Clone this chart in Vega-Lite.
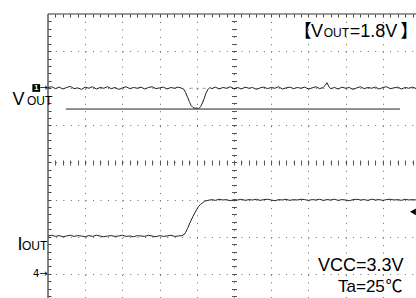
{
"$schema": "https://vega.github.io/schema/vega-lite/v6.json",
"width": 368, "height": 284,
"autosize": {"type": "none"},
"padding": {"left": 48, "top": 14, "right": 0, "bottom": 0},
"background": "white",
"config": {"view": {"stroke": null}, "axis": {"domain": false, "labels": false, "ticks": false, "grid": false, "title": null}},
"resolve": {"axis": {"x": "independent", "y": "independent"}},
"datasets": {
"vout": [
{"t":0.0,"v":6.02},{"t":0.1,"v":6.04},{"t":0.2,"v":5.99},{"t":0.3,"v":6.03},{"t":0.4,"v":5.98},{"t":0.5,"v":6.02},{"t":0.6,"v":6.05},{"t":0.7,"v":5.99},{"t":0.8,"v":6.01},{"t":0.9,"v":5.97},
{"t":1.0,"v":6.03},{"t":1.1,"v":6.00},{"t":1.2,"v":6.04},{"t":1.3,"v":5.98},{"t":1.4,"v":6.02},{"t":1.5,"v":6.00},{"t":1.6,"v":6.04},{"t":1.7,"v":5.99},{"t":1.8,"v":6.02},{"t":1.9,"v":5.97},
{"t":2.0,"v":6.01},{"t":2.1,"v":6.04},{"t":2.2,"v":5.99},{"t":2.3,"v":6.02},{"t":2.4,"v":6.00},{"t":2.5,"v":6.03},{"t":2.6,"v":5.98},{"t":2.7,"v":6.02},{"t":2.8,"v":6.04},{"t":2.9,"v":5.99},
{"t":3.0,"v":6.01},{"t":3.1,"v":6.03},{"t":3.2,"v":5.98},{"t":3.3,"v":6.02},{"t":3.4,"v":6.00},{"t":3.5,"v":6.03},{"t":3.6,"v":6.00},{"t":3.65,"v":5.97},{"t":3.7,"v":5.88},{"t":3.75,"v":5.76},
{"t":3.8,"v":5.64},{"t":3.85,"v":5.53},{"t":3.9,"v":5.48},{"t":3.95,"v":5.46},{"t":4.0,"v":5.47},{"t":4.05,"v":5.45},{"t":4.1,"v":5.50},{"t":4.15,"v":5.60},{"t":4.2,"v":5.73},{"t":4.25,"v":5.87},
{"t":4.3,"v":5.97},{"t":4.35,"v":6.02},{"t":4.4,"v":5.99},{"t":4.5,"v":6.03},{"t":4.6,"v":5.98},{"t":4.7,"v":6.02},{"t":4.8,"v":6.00},{"t":4.9,"v":6.04},{"t":5.0,"v":5.99},{"t":5.1,"v":6.02},
{"t":5.2,"v":5.98},{"t":5.3,"v":6.03},{"t":5.4,"v":6.00},{"t":5.5,"v":6.02},{"t":5.6,"v":5.97},{"t":5.7,"v":6.01},{"t":5.8,"v":6.03},{"t":5.9,"v":5.99},{"t":6.0,"v":6.02},{"t":6.1,"v":6.00},
{"t":6.2,"v":6.04},{"t":6.3,"v":5.98},{"t":6.4,"v":6.01},{"t":6.5,"v":6.03},{"t":6.6,"v":5.99},{"t":6.7,"v":6.02},{"t":6.8,"v":6.00},{"t":6.9,"v":6.03},{"t":7.0,"v":5.98},{"t":7.1,"v":6.01},
{"t":7.2,"v":6.04},{"t":7.3,"v":5.99},{"t":7.4,"v":6.02},{"t":7.45,"v":6.08},{"t":7.5,"v":6.15},{"t":7.55,"v":6.04},{"t":7.6,"v":5.99},{"t":7.7,"v":6.02},{"t":7.8,"v":5.98},{"t":7.9,"v":6.03},
{"t":8.0,"v":6.00},{"t":8.1,"v":6.02},{"t":8.2,"v":5.97},{"t":8.3,"v":6.01},{"t":8.4,"v":6.04},{"t":8.5,"v":5.99},{"t":8.6,"v":6.02},{"t":8.7,"v":6.00},{"t":8.8,"v":6.03},{"t":8.9,"v":5.98},
{"t":9.0,"v":6.02},{"t":9.1,"v":6.04},{"t":9.2,"v":5.99},{"t":9.3,"v":6.01},{"t":9.4,"v":6.03},{"t":9.5,"v":5.98},{"t":9.6,"v":6.02},{"t":9.7,"v":6.00},{"t":9.8,"v":6.03},{"t":9.9,"v":5.99}
],
"iout": [
{"t":0.0,"v":2.02},{"t":0.1,"v":2.04},{"t":0.2,"v":2.01},{"t":0.3,"v":2.03},{"t":0.4,"v":2.00},{"t":0.5,"v":2.02},{"t":0.6,"v":2.04},{"t":0.7,"v":2.01},{"t":0.8,"v":2.03},{"t":0.9,"v":2.02},
{"t":1.0,"v":2.00},{"t":1.1,"v":2.03},{"t":1.2,"v":2.01},{"t":1.3,"v":2.04},{"t":1.4,"v":2.02},{"t":1.5,"v":2.00},{"t":1.6,"v":2.02},{"t":1.7,"v":2.03},{"t":1.8,"v":2.01},{"t":1.9,"v":2.02},
{"t":2.0,"v":2.04},{"t":2.1,"v":2.01},{"t":2.2,"v":2.02},{"t":2.3,"v":2.00},{"t":2.4,"v":2.03},{"t":2.5,"v":2.02},{"t":2.6,"v":2.01},{"t":2.7,"v":2.04},{"t":2.8,"v":2.02},{"t":2.9,"v":2.00},
{"t":3.0,"v":2.03},{"t":3.1,"v":2.01},{"t":3.2,"v":2.02},{"t":3.3,"v":2.04},{"t":3.4,"v":2.01},{"t":3.5,"v":2.02},{"t":3.6,"v":2.03},{"t":3.65,"v":2.05},{"t":3.7,"v":2.12},{"t":3.75,"v":2.22},
{"t":3.8,"v":2.34},{"t":3.85,"v":2.45},{"t":3.9,"v":2.55},{"t":3.95,"v":2.65},{"t":4.0,"v":2.74},{"t":4.05,"v":2.82},{"t":4.1,"v":2.87},{"t":4.15,"v":2.91},{"t":4.2,"v":2.95},{"t":4.25,"v":2.97},
{"t":4.3,"v":2.98},{"t":4.4,"v":3.00},{"t":4.5,"v":2.98},{"t":4.6,"v":3.01},{"t":4.7,"v":2.99},{"t":4.8,"v":3.00},{"t":4.9,"v":2.97},{"t":5.0,"v":3.00},{"t":5.1,"v":2.99},{"t":5.2,"v":3.01},
{"t":5.3,"v":2.98},{"t":5.4,"v":3.00},{"t":5.5,"v":2.99},{"t":5.6,"v":3.01},{"t":5.7,"v":2.98},{"t":5.8,"v":3.00},{"t":5.9,"v":3.01},{"t":6.0,"v":2.99},{"t":6.1,"v":2.97},{"t":6.2,"v":3.00},
{"t":6.3,"v":2.99},{"t":6.4,"v":3.01},{"t":6.5,"v":2.98},{"t":6.6,"v":3.00},{"t":6.7,"v":2.99},{"t":6.8,"v":3.01},{"t":6.9,"v":3.00},{"t":7.0,"v":2.98},{"t":7.1,"v":3.00},{"t":7.2,"v":2.99},
{"t":7.3,"v":3.01},{"t":7.4,"v":2.98},{"t":7.5,"v":3.00},{"t":7.6,"v":2.99},{"t":7.7,"v":3.01},{"t":7.8,"v":2.98},{"t":7.9,"v":3.00},{"t":8.0,"v":2.99},{"t":8.1,"v":2.97},{"t":8.2,"v":3.00},
{"t":8.3,"v":3.01},{"t":8.4,"v":2.99},{"t":8.5,"v":3.00},{"t":8.6,"v":2.98},{"t":8.7,"v":3.01},{"t":8.8,"v":2.99},{"t":8.9,"v":3.00},{"t":9.0,"v":2.98},{"t":9.1,"v":3.00},{"t":9.2,"v":3.01},
{"t":9.3,"v":2.99},{"t":9.4,"v":3.00},{"t":9.5,"v":2.98},{"t":9.6,"v":3.01},{"t":9.7,"v":2.99},{"t":9.8,"v":3.00},{"t":9.9,"v":2.99}
],
"big": [
{"x":7.07,"y":7.39,"text":"V"},
{"x":8.11,"y":7.39,"text":"=1.8V"},
{"x":7.258,"y":1.077,"text":"VCC=3.3V"},
{"x":-0.954,"y":5.549,"text":"V"},
{"x":-0.823,"y":1.643,"text":"I"}
],
"small": [
{"x":7.41,"y":7.39,"text":"OUT"},
{"x":-0.565,"y":5.549,"text":"OUT"},
{"x":-0.699,"y":1.643,"text":"OUT"}
]
},
"layer": [
{
"data": {"values": [{"x": 0}]},
"mark": {"type": "rule", "color": "#333", "strokeWidth": 1.2},
"encoding": {"x": {"field": "x", "type": "quantitative", "scale": {"domain": [0, 9.892], "nice": false, "zero": false}, "axis": null}}
},
{
"data": {"values": [{"y": 8}]},
"mark": {"type": "rule", "color": "#333", "strokeWidth": 1.2},
"encoding": {"y": {"field": "y", "type": "quantitative", "scale": {"domain": [0.35, 8], "nice": false, "zero": false}, "axis": null}}
},
{
"data": {"values": [{"x1": 3.82, "x2": 4.2, "y": 6.0}]},
"mark": {"type": "rule", "color": "#aaa", "strokeWidth": 1, "strokeDash": [3, 3]},
"encoding": {
"x": {"field": "x1", "type": "quantitative", "scale": {"domain": [0, 9.892], "nice": false, "zero": false}, "axis": null},
"x2": {"field": "x2"},
"y": {"field": "y", "type": "quantitative", "scale": {"domain": [0.35, 8], "nice": false, "zero": false}, "axis": null}
}
},
{
"data": {"name": "vout"},
"mark": {"type": "line", "color": "#222", "strokeWidth": 1, "clip": true},
"encoding": {
"x": {"field": "t", "type": "quantitative", "scale": {"domain": [0, 9.892], "nice": false, "zero": false},
 "axis": {"orient": "bottom", "grid": true, "values": [1,2,3,4,5,6,7,8,9], "gridDash": [1, 6.44], "gridColor": "#666", "gridWidth": 1, "gridOpacity": 1}},
"y": {"field": "v", "type": "quantitative", "scale": {"domain": [0.35, 8], "nice": false, "zero": false},
 "axis": {"orient": "left", "grid": true, "values": [1,2,3,4,5,6,7], "gridDash": [1, 6.425], "gridColor": "#666", "gridWidth": 1, "gridOpacity": 1}}
}
},
{
"data": {"name": "iout"},
"mark": {"type": "line", "color": "#222", "strokeWidth": 1, "clip": true},
"encoding": {
"x": {"field": "t", "type": "quantitative", "scale": {"domain": [0, 9.892], "nice": false, "zero": false},
 "axis": {"orient": "top", "offset": -3, "ticks": true, "tickSize": 3, "tickColor": "#444", "tickWidth": 1,
  "values": [0.2,0.4,0.6,0.8,1,1.2,1.4,1.6,1.8,2,2.2,2.4,2.6,2.8,3,3.2,3.4,3.6,3.8,4,4.2,4.4,4.6,4.8,5,5.2,5.4,5.6,5.8,6,6.2,6.4,6.6,6.8,7,7.2,7.4,7.6,7.8,8,8.2,8.4,8.6,8.8,9,9.2,9.4,9.6,9.8]}},
"y": {"field": "v", "type": "quantitative", "scale": {"domain": [0.35, 8], "nice": false, "zero": false},
 "axis": {"orient": "left", "offset": -3, "ticks": true, "tickSize": 3, "tickColor": "#444", "tickWidth": 1,
  "values": [0.4,0.6,0.8,1,1.2,1.4,1.6,1.8,2,2.2,2.4,2.6,2.8,3,3.2,3.4,3.6,3.8,4,4.2,4.4,4.6,4.8,5,5.2,5.4,5.6,5.8,6,6.2,6.4,6.6,6.8,7,7.2,7.4,7.6,7.8]}}
}
},
{
"data": {"values": [{"x1": 0.48, "x2": 9.46, "y": 5.44}]},
"mark": {"type": "rule", "color": "#222", "strokeWidth": 1},
"encoding": {
"x": {"field": "x1", "type": "quantitative", "scale": {"domain": [0, 9.892], "nice": false, "zero": false},
 "axis": {"orient": "top", "offset": -151, "ticks": true, "tickSize": 5, "tickColor": "#555", "tickWidth": 1,
  "values": [0.2,0.4,0.6,0.8,1,1.2,1.4,1.6,1.8,2,2.2,2.4,2.6,2.8,3,3.2,3.4,3.6,3.8,4,4.2,4.4,4.6,4.8,5,5.2,5.4,5.6,5.8,6,6.2,6.4,6.6,6.8,7,7.2,7.4,7.6,7.8,8,8.2,8.4,8.6,8.8,9,9.2,9.4,9.6,9.8]}},
"x2": {"field": "x2"},
"y": {"field": "y", "type": "quantitative", "scale": {"domain": [0.35, 8], "nice": false, "zero": false},
 "axis": {"orient": "left", "offset": -188.5, "ticks": true, "tickSize": 5, "tickColor": "#555", "tickWidth": 1,
  "values": [0.4,0.6,0.8,1,1.2,1.4,1.6,1.8,2,2.2,2.4,2.6,2.8,3,3.2,3.4,3.6,3.8,4,4.2,4.4,4.6,4.8,5,5.2,5.4,5.6,5.8,6,6.2,6.4,6.6,6.8,7,7.2,7.4,7.6,7.8]}}
}
},
{
"data": {"name": "big"},
"mark": {"type": "text", "font": "Liberation Sans", "fontSize": 18, "align": "left", "baseline": "alphabetic", "color": "#000"},
"encoding": {
"x": {"field": "x", "type": "quantitative", "scale": {"domain": [0, 9.892], "nice": false, "zero": false}, "axis": null},
"y": {"field": "y", "type": "quantitative", "scale": {"domain": [0.35, 8], "nice": false, "zero": false}, "axis": null},
"text": {"field": "text"}
}
},
{
"data": {"values": [{"x": 7.796, "y": 0.51, "text": "Ta=25"}]},
"mark": {"type": "text", "font": "Liberation Sans", "fontSize": 17, "align": "left", "baseline": "alphabetic", "color": "#000"},
"encoding": {
"x": {"field": "x", "type": "quantitative", "scale": {"domain": [0, 9.892], "nice": false, "zero": false}, "axis": null},
"y": {"field": "y", "type": "quantitative", "scale": {"domain": [0.35, 8], "nice": false, "zero": false}, "axis": null},
"text": {"field": "text"}
}
},
{
"data": {"values": [{"x": 9.07, "y": 0.51, "text": "℃"}]},
"mark": {"type": "text", "font": "Noto Sans CJK JP", "fontSize": 17, "align": "left", "baseline": "alphabetic", "color": "#000"},
"encoding": {
"x": {"field": "x", "type": "quantitative", "scale": {"domain": [0, 9.892], "nice": false, "zero": false}, "axis": null},
"y": {"field": "y", "type": "quantitative", "scale": {"domain": [0.35, 8], "nice": false, "zero": false}, "axis": null},
"text": {"field": "text"}
}
},
{
"data": {"name": "small"},
"mark": {"type": "text", "font": "Liberation Sans", "fontSize": 12, "align": "left", "baseline": "alphabetic", "color": "#000"},
"encoding": {
"x": {"field": "x", "type": "quantitative", "scale": {"domain": [0, 9.892], "nice": false, "zero": false}, "axis": null},
"y": {"field": "y", "type": "quantitative", "scale": {"domain": [0.35, 8], "nice": false, "zero": false}, "axis": null},
"text": {"field": "text"}
}
},
{
"data": {"values": [{"x": 7.09, "y": 7.39, "text": "【"}]},
"mark": {"type": "text", "font": "Noto Sans CJK JP", "fontSize": 18, "align": "right", "baseline": "alphabetic", "color": "#000"},
"encoding": {
"x": {"field": "x", "type": "quantitative", "scale": {"domain": [0, 9.892], "nice": false, "zero": false}, "axis": null},
"y": {"field": "y", "type": "quantitative", "scale": {"domain": [0.35, 8], "nice": false, "zero": false}, "axis": null},
"text": {"field": "text"}
}
},
{
"data": {"values": [{"x": 9.47, "y": 7.39, "text": "】"}]},
"mark": {"type": "text", "font": "Noto Sans CJK JP", "fontSize": 18, "align": "left", "baseline": "alphabetic", "color": "#000"},
"encoding": {
"x": {"field": "x", "type": "quantitative", "scale": {"domain": [0, 9.892], "nice": false, "zero": false}, "axis": null},
"y": {"field": "y", "type": "quantitative", "scale": {"domain": [0.35, 8], "nice": false, "zero": false}, "axis": null},
"text": {"field": "text"}
}
},
{
"data": {"values": [{"x": -0.403, "y": 0.997, "text": "4→"}, {"x": -0.228, "y": 6.007, "text": "→"}]},
"mark": {"type": "text", "font": "DejaVu Sans", "fontSize": 10, "align": "left", "baseline": "middle", "color": "#000"},
"encoding": {
"x": {"field": "x", "type": "quantitative", "scale": {"domain": [0, 9.892], "nice": false, "zero": false}, "axis": null},
"y": {"field": "y", "type": "quantitative", "scale": {"domain": [0.35, 8], "nice": false, "zero": false}, "axis": null},
"text": {"field": "text"}
}
},
{
"data": {"values": [{"x": -0.316, "y": 6.007}]},
"mark": {"type": "point", "shape": "square", "filled": true, "size": 60, "color": "#000", "opacity": 1},
"encoding": {
"x": {"field": "x", "type": "quantitative", "scale": {"domain": [0, 9.892], "nice": false, "zero": false}, "axis": null},
"y": {"field": "y", "type": "quantitative", "scale": {"domain": [0.35, 8], "nice": false, "zero": false}, "axis": null}
}
},
{
"data": {"values": [{"x": -0.316, "y": 6.007, "text": "1"}]},
"mark": {"type": "text", "font": "Liberation Sans", "fontSize": 8, "fontWeight": "bold", "align": "center", "baseline": "middle", "color": "#fff"},
"encoding": {
"x": {"field": "x", "type": "quantitative", "scale": {"domain": [0, 9.892], "nice": false, "zero": false}, "axis": null},
"y": {"field": "y", "type": "quantitative", "scale": {"domain": [0.35, 8], "nice": false, "zero": false}, "axis": null},
"text": {"field": "text"}
}
},
{
"data": {"values": [{"x": 9.81, "y": 2.67}]},
"mark": {"type": "point", "shape": "triangle-left", "filled": true, "size": 45, "color": "#000", "opacity": 1},
"encoding": {
"x": {"field": "x", "type": "quantitative", "scale": {"domain": [0, 9.892], "nice": false, "zero": false}, "axis": null},
"y": {"field": "y", "type": "quantitative", "scale": {"domain": [0.35, 8], "nice": false, "zero": false}, "axis": null}
}
}
]
}
